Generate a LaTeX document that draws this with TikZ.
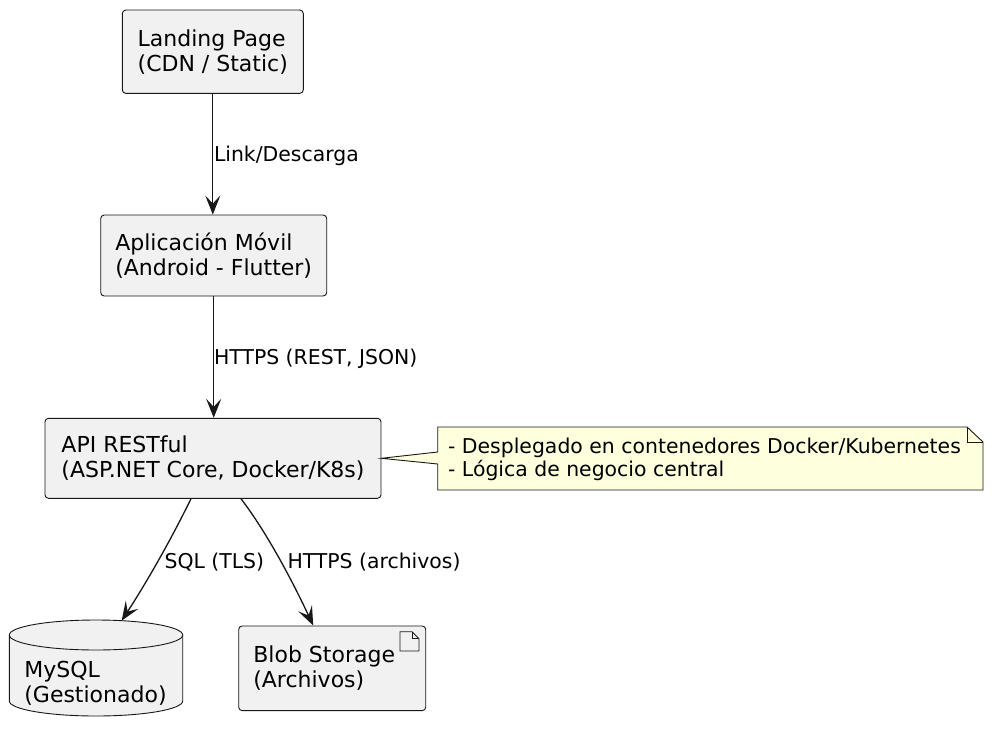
\documentclass[tikz,border=0pt]{standalone}
\usepackage{fontspec}
\setmainfont{DejaVu Sans}
\usetikzlibrary{arrows.meta}
\definecolor{boxfill}{HTML}{F1F1F1}
\definecolor{boxline}{HTML}{181818}
\definecolor{notefill}{HTML}{FEFFDD}
\newcommand\diagboxfont{\fontsize{22}{25}\selectfont}
\newcommand\diaglblfont{\fontsize{20.4}{23.3}\selectfont}
\begin{document}
\begin{tikzpicture}[x=1pt,y=-1pt,
  comp/.style={draw=boxline, fill=boxfill, line width=0.9pt, rounded corners=3.5pt,
    align=left, font=\diagboxfont, inner sep=0pt},
  lbl/.style={font=\diaglblfont, inner sep=0pt, anchor=base west},
  shapeline/.style={draw=boxline, line width=0.9pt},
  conn/.style={draw=boxline, line width=1.3pt, -{Stealth[length=19pt,width=15pt,inset=8pt]}}]
\fill[white] (0,0) rectangle (992,741);
\useasboundingbox (0,0) rectangle (992,741);

% components
\node[comp, minimum width=181pt, minimum height=83.3pt] (landing) at (212.8,51.7) {Landing Page\\(CDN / Static)};
\node[comp, minimum width=226pt, minimum height=81pt] (app) at (213.7,255.5) {Aplicación Móvil\\(Android - Flutter)};
\node[comp, minimum width=336pt, minimum height=80pt] (api) at (213,458.3) {API RESTful\\(ASP.NET Core, Docker/K8s)};
\node[comp, minimum width=187pt, minimum height=84.7pt] (blob) at (332.2,668.3) {Blob Storage\hspace*{16pt}\\(Archivos)};

% artifact icon
\path[shapeline, fill=boxfill] (400,631.7) -- (412,631.7) -- (419,638.7) -- (419,651) -- (400,651) -- cycle;
\path[shapeline] (412,631.7) -- (412,638.7) -- (419,638.7);

% database cylinder
\path[shapeline, fill=boxfill] (9.3,635) arc[start angle=180, end angle=360, x radius=86.7, y radius=15]
  -- (182.7,701) arc[start angle=0, end angle=180, x radius=86.7, y radius=15] -- cycle;
\path[shapeline] (9.3,635) arc[start angle=180, end angle=0, x radius=86.7, y radius=15];
\node[font=\diagboxfont, align=left, inner sep=0pt] (db) at (95.5,683.5) {MySQL\\(Gestionado)};
\coordinate (dbtop) at (121.7,620.7);

% note
\path[shapeline, fill=notefill] (437.7,427) -- (967,427) -- (983,442) -- (983,490) -- (437.7,490)
  -- (437.7,464) -- (api.east) -- (437.7,452) -- cycle;
\path[shapeline] (967,427) -- (967,442) -- (983,442);
\node[font=\diaglblfont, align=left, inner sep=0pt] (note) at (704.5,459.5) {- Desplegado en contenedores Docker/Kubernetes\\- Lógica de negocio central};

% connectors
\draw[conn] (landing.south) -- (landing.south |- app.north);
\draw[conn] (app.south) -- (app.south |- api.north);
\draw[conn] ([xshift=-22pt]api.south) .. controls (170.5,540.5) and (147.4,581) .. (dbtop);
\draw[conn] ([xshift=28pt]api.south) .. controls (268,534) and (294.3,585) .. ([xshift=-19pt]blob.north);

% labels
\node[lbl] (l1) at (213.8,161) {Link/Descarga};
\node[lbl] (l2) at (213.9,364) {HTTPS (REST, JSON)};
\node[lbl] (l3) at (164.4,568) {SQL (TLS)};
\node[lbl] (l4) at (287.3,568) {HTTPS (archivos)};
\end{tikzpicture}
\end{document}
